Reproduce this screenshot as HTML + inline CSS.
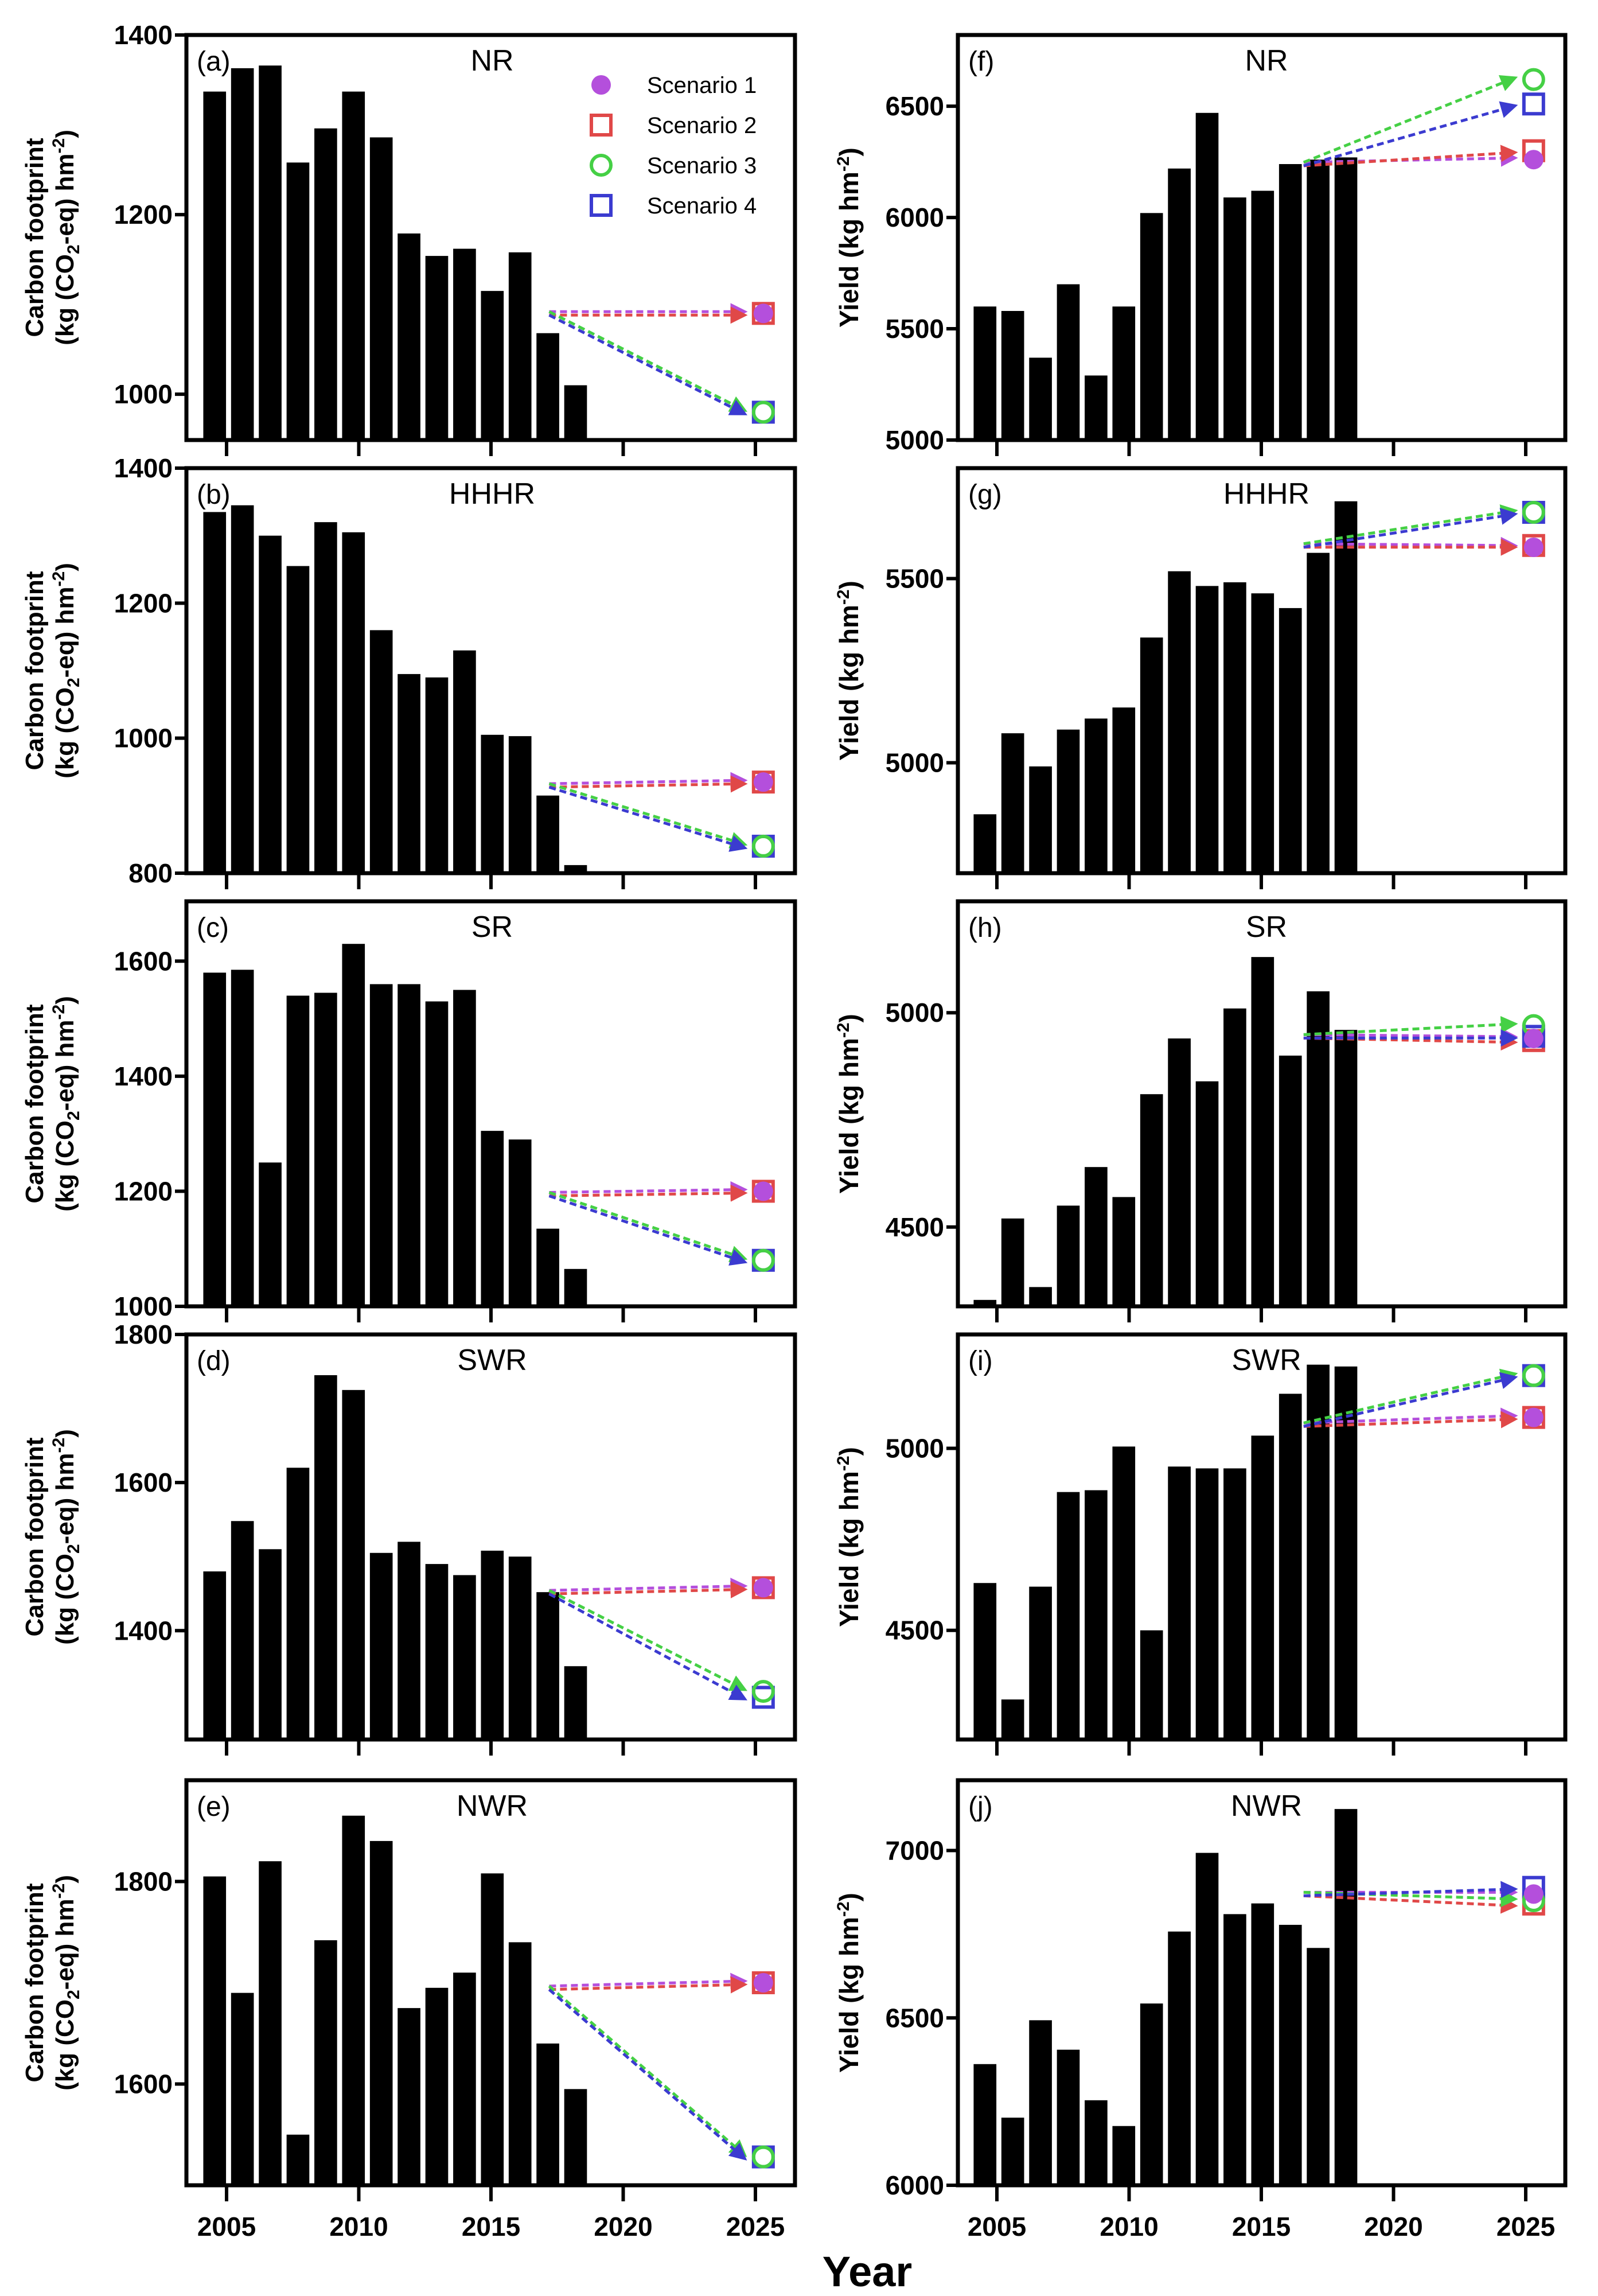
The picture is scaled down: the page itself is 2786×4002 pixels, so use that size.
<!DOCTYPE html>
<html><head><meta charset="utf-8"><style>
html,body{margin:0;padding:0;background:#fff;}
svg{display:block;font-family:"Liberation Sans",Arial,sans-serif;}
</style></head><body>
<svg id="fig" width="2786" height="4002" viewBox="0 0 2786 4002"></svg>
<script>
// ---- data ----
const years = [2005,2006,2007,2008,2009,2010,2011,2012,2013,2014,2015,2016,2017,2018];
const cfNR   = [1337,1363,1366,1258,1296,1337,1286,1179,1154,1162,1115,1158,1068,1010];
const cfHHHR = [1335,1345,1300,1255,1320,1305,1160,1095,1090,1130,1005,1003,915,812];
const cfSR   = [1580,1585,1250,1540,1545,1630,1560,1560,1530,1550,1305,1290,1135,1065];
const cfSWR  = [1480,1548,1510,1620,1745,1725,1505,1520,1490,1475,1508,1500,1452,1352];
const cfNWR  = [1805,1690,1820,1550,1742,1865,1840,1675,1695,1710,1808,1740,1640,1595];
const yNR    = [5600,5580,5370,5700,5290,5600,6020,6220,6470,6090,6120,6240,6260,6270];
const yHHHR  = [4860,5080,4990,5090,5120,5150,5340,5520,5480,5490,5460,5420,5570,5710];
const ySR    = [4330,4520,4360,4550,4640,4570,4810,4940,4840,5010,5130,4900,5050,4960];
const ySWR   = [4630,4310,4620,4880,4885,5005,4500,4950,4945,4945,5035,5150,5230,5225];
const yNWR   = [6362,6202,6493,6405,6254,6177,6543,6758,6993,6810,6842,6778,6709,7124];
// scenario start values and scenario 1-4 end values
const startCF = [1090,930,1195,1452,1695];
const scenCF  = [[1090,1090,980,980],[935,935,840,840],[1200,1200,1080,1080],[1458,1458,1318,1310],[1700,1700,1528,1528]];
const startY  = [6240,5590,4945,5065,6870];
const scenY   = [[6260,6300,6620,6510],[5585,5590,5680,5680],[4940,4935,4970,4945],[5085,5085,5200,5200],[6870,6840,6850,6890]];
const xTicks = [2005,2010,2015,2020,2025];
const cfTicks = [[1000,1200,1400],[800,1000,1200,1400],[1000,1200,1400,1600],[1400,1600,1800],[1600,1800]];
const yTicks  = [[5000,5500,6000,6500],[5000,5500],[4500,5000],[4500,5000],[6000,6500,7000]];
const cfDom = [[949,1400],[800,1400],[1000,1704],[1253,1800],[1500,1900]];
const yDom  = [[5000,6820],[4700,5800],[4315,5260],[4200,5313],[6000,7210]];
const regions = ["NR","HHHR","SR","SWR","NWR"];
const lettersL = ["(a)","(b)","(c)","(d)","(e)"];
const lettersR = ["(f)","(g)","(h)","(i)","(j)"];
const scenNames = ["Scenario 1","Scenario 2","Scenario 3","Scenario 4"];
const scenColors = ["#b44fdc","#e04848","#45d045","#3b3bd0"];

// ---- layout ----
const NS="http://www.w3.org/2000/svg";
const svg=document.getElementById('fig');
function el(tag,attrs,parent){const e=document.createElementNS(NS,tag);for(const k in attrs)e.setAttribute(k,attrs[k]);(parent||svg).appendChild(e);return e;}
const tops=[61,816,1571,2326,3103];
const H=706;
const cols=[{x0:325,x1:1386,t5:395,t25:1317},{x0:1670,x1:2729,t5:1738,t25:2660}];

const defs=el('defs',{});
scenColors.forEach((c,i)=>{
  const m=el('marker',{id:'ah'+i,markerWidth:'6',markerHeight:'6',refX:'5',refY:'3',orient:'auto',markerUnits:'strokeWidth'},defs);
  el('path',{d:'M0,0 L6,3 L0,6 Z',fill:c},m);
});

function drawMarker(g,i,cx,cy){
  const c=scenColors[i];let m;
  if(i===0){m=el('circle',{cx,cy,r:17,fill:c},g);}
  else if(i===2){m=el('circle',{cx,cy,r:17,fill:'none',stroke:c,'stroke-width':6},g);}
  else {m=el('rect',{x:cx-17,y:cy-17,width:34,height:34,fill:'none',stroke:c,'stroke-width':6},g);}
  return m;
}

function panel(col,row,bars,dom,ticks,start,scen,letter,isCF){
  const C=cols[col], top=tops[row], bot=top+H;
  const xs=v=>C.t5+(v-2005)*(C.t25-C.t5)/20;
  const ys=v=>bot-(v-dom[0])/(dom[1]-dom[0])*H;
  const g=el('g',{});
  
  
  const bw=(C.t25-C.t5)/20*0.86;
  bars.forEach((v,i)=>{
    const cx=xs(years[i]-0.45+i*0.05);
    const r=el('rect',{x:cx-bw/2,y:ys(v),width:bw,height:bot-ys(v),fill:'#000'},g);
    
    
  });
  // arrows
  const sx=isCF?xs(2017.2):xs(2016.6);
  const off=[-3,3,-3,3];
  scen.forEach((v,i)=>{
    const ex=xs(2024.6);
    const l=el('line',{x1:sx,y1:ys(start)+off[i],x2:ex,y2:ys(v)+off[i],stroke:scenColors[i],'stroke-width':5,'stroke-dasharray':'12,7','marker-end':'url(#ah'+i+')'},g);
    
    
  });
  [1,3,2,0].forEach(i=>{
    const m=drawMarker(g,i,xs(2025.3),ys(scen[i]));
    
    
  });
  // frame
  const fr=el('rect',{x:C.x0,y:top,width:C.x1-C.x0,height:H,fill:'none',stroke:'#000','stroke-width':7},g);
  
  
  // y ticks
  ticks.forEach(t=>{
    el('line',{x1:C.x0-20,x2:C.x0,y1:ys(t),y2:ys(t),stroke:'#000','stroke-width':6},g);
    const tx=el('text',{x:C.x0-24,y:ys(t)+16,'text-anchor':'end','font-size':46,'font-weight':'bold'},g);
    tx.textContent=t;
    
    
  });
  // x ticks
  xTicks.forEach(t=>{
    el('line',{x1:xs(t),x2:xs(t),y1:bot,y2:bot+28,stroke:'#000','stroke-width':6},g);
    if(row===4){
      const tx=el('text',{x:xs(t),y:bot+88,'text-anchor':'middle','font-size':46,'font-weight':'bold'},g);
      tx.textContent=t;
      
      
    }
  });
  const lt=el('text',{x:C.x0+18,y:top+62,'font-size':48},g);
  lt.textContent=letter;
  
  
  const rt=el('text',{x:(col===0?858:2208),y:top+62,'text-anchor':'middle','font-size':52},g);
  rt.textContent=regions[row];
  
  
  // y axis title
  const cy=top+H/2;
  if(isCF){
    const t1=el('text',{transform:`translate(75,${cy}) rotate(-90)`,'text-anchor':'middle','font-size':44,'font-weight':'bold'},g);
    t1.textContent='Carbon footprint';
    
    
    const t2=el('text',{transform:`translate(128,${cy}) rotate(-90)`,'text-anchor':'middle','font-size':44,'font-weight':'bold'},g);
    t2.innerHTML='(kg (CO<tspan font-size="30" dy="10">2</tspan><tspan dy="-10">-eq) hm</tspan><tspan font-size="30" dy="-16">-2</tspan><tspan dy="16">)</tspan>';
    
    
  } else {
    const t1=el('text',{transform:`translate(1496,${cy}) rotate(-90)`,'text-anchor':'middle','font-size':46,'font-weight':'bold'},g);
    t1.innerHTML='Yield (kg hm<tspan font-size="30" dy="-16">-2</tspan><tspan dy="16">)</tspan>';
    
    
  }
}

const cfs=[cfNR,cfHHHR,cfSR,cfSWR,cfNWR];
const yls=[yNR,yHHHR,ySR,ySWR,yNWR];
for(let r=0;r<5;r++){
  panel(0,r,cfs[r],cfDom[r],cfTicks[r],startCF[r],scenCF[r],lettersL[r],true);
  panel(1,r,yls[r],yDom[r],yTicks[r],startY[r],scenY[r],lettersR[r],false);
}
// legend
const lg=el('g',{});


scenNames.forEach((n,i)=>{
  const y=148+i*70;
  const m=drawMarker(lg,i,1048,y);
  
  
  const t=el('text',{x:1128,y:y+14,'font-size':40},lg);
  t.textContent=n;
  
  
});
const yt=el('text',{x:1512,y:3985,'text-anchor':'middle','font-size':74,'font-weight':'bold'});
yt.textContent='Year';


</script>
</body></html>
